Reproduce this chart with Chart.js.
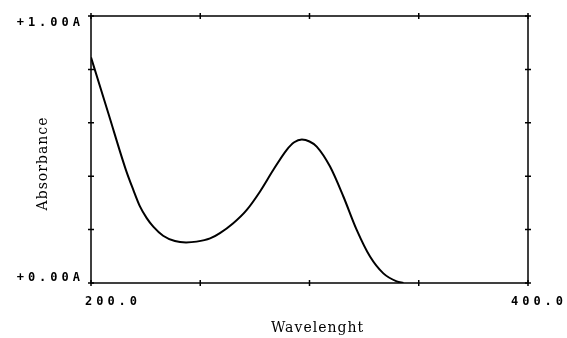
<!DOCTYPE html>
<html>
<head>
<meta charset="utf-8">
<script src="https://cdn.jsdelivr.net/npm/chart.js@4.4.1/dist/chart.umd.min.js"></script>
<style>
  html, body { margin: 0; padding: 0; background: #fff; }
  #wrap { width: 567px; height: 338px; }
</style>
</head>
<body>
<div id="wrap"><canvas id="grafico"></canvas></div>
<script>
// --- DATOS ---
const longitudes = [200, 208, 216, 219.4, 222.4, 225.5, 228.5, 233, 238.4, 243.5, 248.3, 254.5, 259, 265.1, 271.2, 277.3, 283.4, 289.5, 293, 296.5, 300, 303.3, 309.4, 315.5, 321.6, 327.7, 333.8, 339.9, 343];
const absorbancias = [0.845, 0.634, 0.423, 0.348, 0.287, 0.243, 0.211, 0.177, 0.157, 0.152, 0.155, 0.167, 0.187, 0.224, 0.273, 0.342, 0.423, 0.498, 0.527, 0.537, 0.530, 0.511, 0.436, 0.324, 0.199, 0.099, 0.036, 0.006, 0];
const ticksX = [200, 250, 300, 350, 400];
const ticksY = [0, 0.2, 0.4, 0.6, 0.8, 1.0];
const etiquetasX = { 200: '200.0', 400: '400.0' };
const etiquetasY = { 0: '+0.00A', 1: '+1.00A' };
const tituloX = 'Wavelenght';
const tituloY = 'Absorbance';

// --- MARCO, MARCAS Y TEXTOS ---
const marcoPlugin = {
  id: 'marco',
  afterDraw(chart) {
    const ctx = chart.ctx;
    const area = chart.chartArea;
    const sx = chart.scales.x;
    const sy = chart.scales.y;
    ctx.save();
    ctx.strokeStyle = '#000';
    ctx.lineWidth = 1.5;
    ctx.strokeRect(area.left, area.top, area.right - area.left, area.bottom - area.top);

    // marcas cortas en los cuatro lados
    ctx.beginPath();
    ticksX.forEach(v => {
      const px = sx.getPixelForValue(v);
      ctx.moveTo(px, area.top - 3); ctx.lineTo(px, area.top + 3);
      ctx.moveTo(px, area.bottom - 3); ctx.lineTo(px, area.bottom + 3);
    });
    ticksY.forEach(v => {
      const py = sy.getPixelForValue(v);
      ctx.moveTo(area.left - 3, py); ctx.lineTo(area.left + 3, py);
      ctx.moveTo(area.right - 3, py); ctx.lineTo(area.right + 3, py);
    });
    ctx.stroke();

    // etiquetas de ejes
    ctx.fillStyle = '#000';
    ctx.font = 'bold 12px "DejaVu Sans Mono"';
    ctx.letterSpacing = '4px';
    ctx.textBaseline = 'middle';
    ctx.textAlign = 'right';
    Object.keys(etiquetasY).forEach(k => {
      let py = sy.getPixelForValue(Number(k));
      py = Math.min(Math.max(py, area.top + 6.5), area.bottom - 5.5);
      ctx.fillText(etiquetasY[k], area.left - 7, py);
    });
    ctx.textAlign = 'center';
    const desplazX = { 200: 22, 400: 11 };
    Object.keys(etiquetasX).forEach(k => {
      const px = sx.getPixelForValue(Number(k));
      ctx.fillText(etiquetasX[k], px + desplazX[k], area.bottom + 19);
    });

    // titulos
    ctx.font = '14px "DejaVu Serif"';
    ctx.letterSpacing = '1px';
    ctx.textAlign = 'center';
    ctx.fillText(tituloX, (area.left + area.right) / 2 + 8, area.bottom + 45);
    ctx.translate(43, (area.top + area.bottom) / 2 + 14);
    ctx.rotate(-Math.PI / 2);
    ctx.fillText(tituloY, 0, 0);
    ctx.restore();
  }
};

const grafico = new Chart(document.getElementById('grafico').getContext('2d'), {
  type: 'line',
  data: {
    datasets: [{
      label: tituloY,
      data: longitudes.map((l, i) => ({ x: l, y: absorbancias[i] })),
      borderColor: '#000',
      borderWidth: 2,
      pointRadius: 0,
      fill: false,
      cubicInterpolationMode: 'monotone'
    }]
  },
  options: {
    responsive: true,
    maintainAspectRatio: false,
    animation: false,
    layout: { padding: { left: 91, top: 16, right: 39, bottom: 55 } },
    plugins: { legend: { display: false }, tooltip: { enabled: false } },
    scales: {
      x: {
        type: 'linear', min: 200, max: 400,
        ticks: { display: false, stepSize: 50 },
        grid: { display: false, drawTicks: false },
        border: { display: false }
      },
      y: {
        min: 0, max: 1,
        ticks: { display: false, stepSize: 0.2 },
        grid: { display: false, drawTicks: false },
        border: { display: false }
      }
    }
  },
  plugins: [marcoPlugin]
});
</script>
</body>
</html>
